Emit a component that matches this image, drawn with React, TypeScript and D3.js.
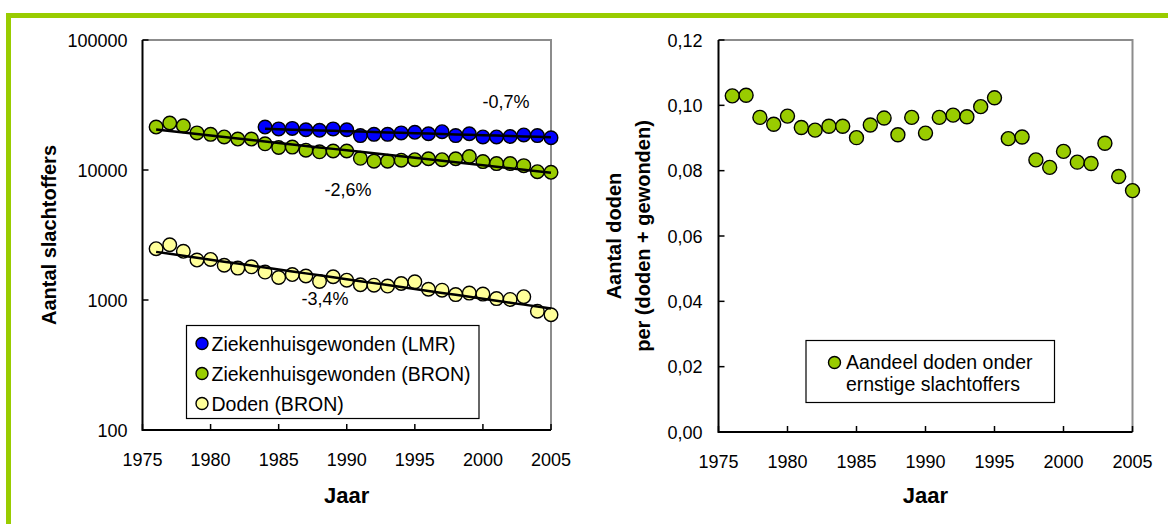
import React from "react";
import * as d3 from "d3";

// Jaren en reeksen
const YEARS_BRON = [
  1976, 1977, 1978, 1979, 1980, 1981, 1982, 1983, 1984, 1985,
  1986, 1987, 1988, 1989, 1990, 1991, 1992, 1993, 1994, 1995,
  1996, 1997, 1998, 1999, 2000, 2001, 2002, 2003, 2004, 2005,
];
const YEARS_LMR = [
  1984, 1985, 1986, 1987, 1988, 1989, 1990, 1991, 1992, 1993, 1994,
  1995, 1996, 1997, 1998, 1999, 2000, 2001, 2002, 2003, 2004, 2005,
];

// Ziekenhuisgewonden volgens LMR
const GEWONDEN_LMR = [
  21400, 20700, 20900, 20400, 20200, 20700, 20400, 18400, 18800, 18800, 19300,
  19500, 19000, 19700, 18400, 19000, 17950, 17950, 18100, 18600, 18400, 17700,
];
// Ziekenhuisgewonden volgens BRON
const GEWONDEN_BRON = [
  21400, 23000, 21900, 19300, 18800, 17950, 17300, 17300, 15900, 14900,
  15000, 14200, 13800, 14000, 14000, 12300, 11700, 11700, 11900, 12000,
  12200, 12000, 12200, 12700, 11600, 11200, 11200, 10800, 9700, 9600,
];
// Doden volgens BRON
const DODEN_BRON = [
  2480, 2660, 2370, 2030, 2050, 1850, 1760, 1800, 1640, 1490,
  1570, 1530, 1390, 1510, 1420, 1310, 1300, 1280, 1340, 1380,
  1210, 1190, 1100, 1130, 1110, 1025, 1010, 1060, 820, 770,
];
// Aandeel doden onder ernstige slachtoffers
const AANDEEL = [
  0.1029, 0.1031, 0.0963, 0.0942, 0.0967, 0.0932, 0.0924, 0.0936, 0.0936, 0.0901,
  0.094, 0.0961, 0.091, 0.0963, 0.0915, 0.0963, 0.097, 0.0965, 0.0996, 0.1023,
  0.0898, 0.0903, 0.0833, 0.081, 0.0859, 0.0826, 0.0822, 0.0884, 0.0782, 0.0739,
];

// Jaarlijkse procentuele verandering van de trendlijnen
const TREND_LMR = -0.007;
const TREND_GEWONDEN = -0.026;
const TREND_DODEN = -0.034;

const LOG_TICKS = [100, 1000, 10000, 100000];
const SHARE_TICKS = [0, 0.02, 0.04, 0.06, 0.08, 0.1, 0.12];
const YEAR_TICKS = [1975, 1980, 1985, 1990, 1995, 2000, 2005];

const FONT = "'Liberation Sans', Arial, Helvetica, sans-serif";
const GREEN = "#99CC00";
const BLUE = "#0000FF";
const YELLOW = "#FFFF99";

const W = 1168;
const H = 524;

const xL = d3.scaleLinear().domain([1975, 2005]).range([142.5, 551]);
const yL = d3.scaleLog().domain([100, 100000]).range([430, 40]);
const xR = d3.scaleLinear().domain([1975, 2005]).range([718.5, 1132.5]);
const yR = d3.scaleLinear().domain([0, 0.12]).range([432, 40]);

// Nederlandse notatie: decimale komma, gewoon koppelteken als minteken
const nl = d3.formatLocale({
  decimal: ",",
  thousands: ".",
  grouping: [3],
  currency: ["€", ""],
  minus: "-",
});
const fmtShare = nl.format(".2f");
const fmtRate = nl.format(".1f");
const fmtPct = (r: number) => fmtRate(r * 100) + "%";

// Exponentiële trend met opgegeven jaarlijkse verandering, door het gemiddelde punt
function trend(years: number[], values: number[], rate: number) {
  const mx = d3.mean(years) as number;
  const my = d3.mean(values, (v) => Math.log10(v)) as number;
  const b = Math.log10(1 + rate);
  return years.map((t) => ({ t, v: Math.pow(10, my + b * (t - mx)) }));
}

function Frame({
  x0, x1, y0, y1,
}: { x0: number; x1: number; y0: number; y1: number }) {
  return (
    <g>
      <path d={`M${x0},${y0}H${x1}V${y1}`} fill="none" stroke="#8c8c8c" strokeWidth={2} />
      <path d={`M${x0},${y0}V${y1}H${x1}`} fill="none" stroke="#000" strokeWidth={2} />
    </g>
  );
}

export default function App() {
  const lineL = d3
    .line<{ t: number; v: number }>()
    .x((d) => xL(d.t))
    .y((d) => yL(d.v));

  const tLmr = trend(YEARS_LMR, GEWONDEN_LMR, TREND_LMR);
  const tGew = trend(YEARS_BRON, GEWONDEN_BRON, TREND_GEWONDEN);
  const tDod = trend(YEARS_BRON, DODEN_BRON, TREND_DODEN);

  const [lx0, lx1] = xL.range();
  const [ly0, ly1] = [yL(100000), yL(100)];
  const [rx0, rx1] = xR.range();
  const [ry0, ry1] = [yR(0.12), yR(0)];

  const marker = (cx: number, cy: number, fill: string, key: string | number, r = 6.8) => (
    <circle key={key} cx={cx} cy={cy} r={r} fill={fill} stroke="#000" strokeWidth={1.4} />
  );

  return (
    <svg
      width={W}
      height={H}
      style={{ position: "absolute", left: 0, top: 0, display: "block", background: "#fff" }}
      fontFamily={FONT}
    >
      <rect x={0} y={0} width={W} height={H} fill="#fff" />
      {/* groene rand */}
      <rect x={6} y={13} width={W - 6} height={5} fill={GREEN} />
      <rect x={6} y={13} width={5} height={H - 13} fill={GREEN} />

      {/* ---------- linker grafiek ---------- */}
      <Frame x0={lx0} x1={lx1} y0={ly0} y1={ly1} />
      {LOG_TICKS.map((v) => (
        <g key={v}>
          <line x1={lx0} x2={lx0 + 6} y1={yL(v)} y2={yL(v)} stroke="#000" strokeWidth={1.5} />
          <text x={lx0 - 15} y={yL(v) + 6.5} textAnchor="end" fontSize={18}>
            {v}
          </text>
        </g>
      ))}
      {YEAR_TICKS.map((t) => (
        <g key={t}>
          <line x1={xL(t)} x2={xL(t)} y1={ly1} y2={ly1 - 6} stroke="#000" strokeWidth={1.5} />
          <text x={xL(t)} y={ly1 + 36} textAnchor="middle" fontSize={18}>
            {t}
          </text>
        </g>
      ))}
      <text x={(lx0 + lx1) / 2} y={503} textAnchor="middle" fontSize={22} fontWeight="bold">
        Jaar
      </text>
      <text
        transform={`translate(56,${(ly0 + ly1) / 2}) rotate(-90)`}
        textAnchor="middle"
        fontSize={20}
        fontWeight="bold"
      >
        Aantal slachtoffers
      </text>

      {GEWONDEN_BRON.map((v, i) => marker(xL(YEARS_BRON[i]), yL(v), GREEN, "g" + i))}
      {GEWONDEN_LMR.map((v, i) => marker(xL(YEARS_LMR[i]), yL(v), BLUE, "b" + i))}
      {DODEN_BRON.map((v, i) => marker(xL(YEARS_BRON[i]), yL(v), YELLOW, "y" + i))}

      <path d={lineL(tGew) || ""} fill="none" stroke="#000" strokeWidth={2.5} />
      <path d={lineL(tLmr) || ""} fill="none" stroke="#000" strokeWidth={2.5} />
      <path d={lineL(tDod) || ""} fill="none" stroke="#000" strokeWidth={2.5} />

      <text x={xL(2001.7)} y={yL(100000) + 68} textAnchor="middle" fontSize={18}>
        {fmtPct(TREND_LMR)}
      </text>
      <text x={xL(1990.1)} y={196} textAnchor="middle" fontSize={18}>
        {fmtPct(TREND_GEWONDEN)}
      </text>
      <text x={xL(1988.4)} y={305} textAnchor="middle" fontSize={18}>
        {fmtPct(TREND_DODEN)}
      </text>

      {/* legenda links */}
      <rect x={186.5} y={325.5} width={292.5} height={93} fill="#fff" stroke="#000" strokeWidth={1.2} />
      {[
        { label: "Ziekenhuisgewonden (LMR)", fill: BLUE },
        { label: "Ziekenhuisgewonden (BRON)", fill: GREEN },
        { label: "Doden (BRON)", fill: YELLOW },
      ].map((d, i) => (
        <g key={d.label}>
          {marker(202, 343.5 + i * 30, d.fill, "lm" + i, 6)}
          <text x={211.5} y={350.5 + i * 30} fontSize={19.5}>
            {d.label}
          </text>
        </g>
      ))}

      {/* ---------- rechter grafiek ---------- */}
      <Frame x0={rx0} x1={rx1} y0={ry0} y1={ry1} />
      {SHARE_TICKS.map((v) => (
        <g key={v}>
          <line x1={rx0} x2={rx0 + 6} y1={yR(v)} y2={yR(v)} stroke="#000" strokeWidth={1.5} />
          <text x={rx0 - 16} y={yR(v) + 6.5} textAnchor="end" fontSize={18}>
            {fmtShare(v)}
          </text>
        </g>
      ))}
      {YEAR_TICKS.map((t) => (
        <g key={t}>
          <line x1={xR(t)} x2={xR(t)} y1={ry1} y2={ry1 - 6} stroke="#000" strokeWidth={1.5} />
          <text x={xR(t)} y={ry1 + 36} textAnchor="middle" fontSize={18}>
            {t}
          </text>
        </g>
      ))}
      <text x={(rx0 + rx1) / 2} y={503} textAnchor="middle" fontSize={22} fontWeight="bold">
        Jaar
      </text>
      <text
        transform={`translate(621,${(ry0 + ry1) / 2}) rotate(-90)`}
        textAnchor="middle"
        fontSize={20}
        fontWeight="bold"
      >
        Aantal doden
      </text>
      <text
        transform={`translate(650,${(ry0 + ry1) / 2}) rotate(-90)`}
        textAnchor="middle"
        fontSize={20}
        fontWeight="bold"
      >
        per (doden + gewonden)
      </text>

      {AANDEEL.map((v, i) => marker(xR(YEARS_BRON[i]), yR(v), GREEN, "a" + i, 7))}

      {/* legenda rechts */}
      <rect x={806} y={340.5} width={248.5} height={62} fill="#fff" stroke="#000" strokeWidth={1.2} />
      {marker(834.5, 362.5, GREEN, "ar", 6)}
      <text x={846} y={369} fontSize={19.5}>
        Aandeel doden onder
      </text>
      <text x={933} y={390.5} fontSize={19.5} textAnchor="middle">
        ernstige slachtoffers
      </text>
    </svg>
  );
}
